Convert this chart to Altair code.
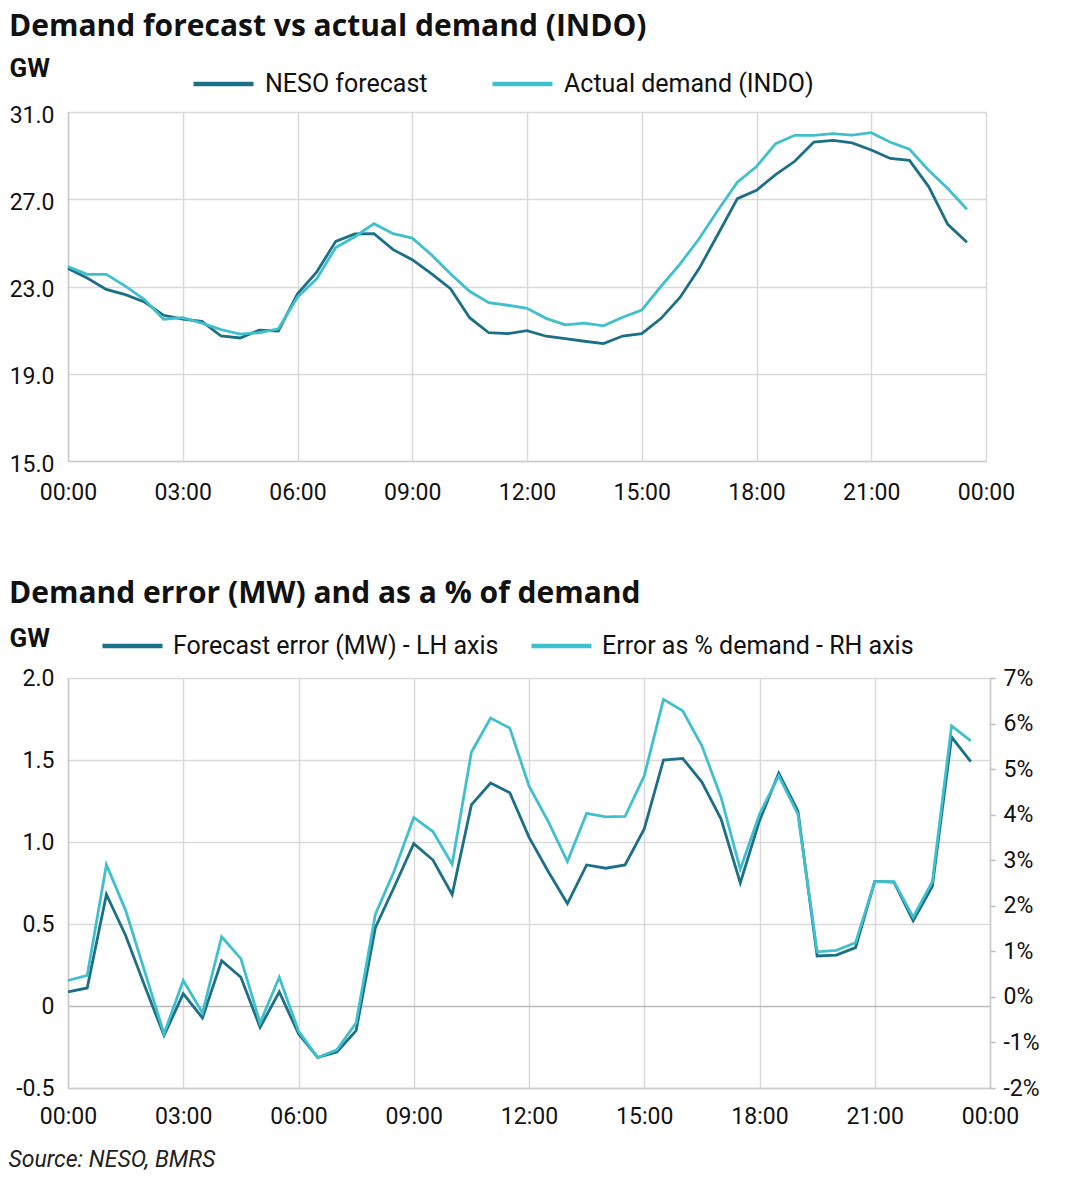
import altair as alt
import pandas as pd

# ---- data -------------------------------------------------------------
times = ["00:00", "00:30", "01:00", "01:30", "02:00", "02:30", "03:00", "03:30",
         "04:00", "04:30", "05:00", "05:30", "06:00", "06:30", "07:00", "07:30",
         "08:00", "08:30", "09:00", "09:30", "10:00", "10:30", "11:00", "11:30",
         "12:00", "12:30", "13:00", "13:30", "14:00", "14:30", "15:00", "15:30",
         "16:00", "16:30", "17:00", "17:30", "18:00", "18:30", "19:00", "19:30",
         "20:00", "20:30", "21:00", "21:30", "22:00", "22:30", "23:00", "23:30"]

neso_forecast = [23.82, 23.39, 22.87, 22.63, 22.29, 21.68, 21.50, 21.40,
                 20.73, 20.64, 21.00, 20.96, 22.67, 23.66, 25.07, 25.41,
                 25.42, 24.69, 24.23, 23.59, 22.90, 21.57, 20.88, 20.84,
                 20.98, 20.72, 20.61, 20.49, 20.38, 20.73, 20.84, 21.53,
                 22.50, 23.82, 25.42, 27.03, 27.41, 28.13, 28.74, 29.62,
                 29.70, 29.58, 29.26, 28.87, 28.78, 27.58, 25.85, 25.03]

actual_demand = [23.92, 23.56, 23.56, 23.02, 22.40, 21.50, 21.57, 21.32,
                 21.02, 20.82, 20.88, 21.06, 22.51, 23.35, 24.79, 25.28,
                 25.88, 25.42, 25.22, 24.46, 23.58, 22.78, 22.26, 22.14,
                 22.00, 21.54, 21.24, 21.32, 21.20, 21.59, 21.92, 23.00,
                 24.03, 25.19, 26.52, 27.78, 28.50, 29.55, 29.93, 29.93,
                 30.01, 29.94, 30.05, 29.61, 29.29, 28.33, 27.49, 26.54]

forecast_error_gw = [0.086, 0.11, 0.68, 0.43, 0.12, -0.18, 0.075, -0.073,
                     0.277, 0.175, -0.13, 0.086, -0.17, -0.314, -0.28, -0.15,
                     0.477, 0.73, 0.99, 0.89, 0.68, 1.226, 1.36, 1.30,
                     1.03, 0.82, 0.625, 0.86, 0.84, 0.86, 1.08, 1.50,
                     1.51, 1.365, 1.14, 0.75, 1.13, 1.42, 1.19, 0.305,
                     0.31, 0.356, 0.76, 0.755, 0.52, 0.73, 1.64, 1.49]

error_pct = [0.36, 0.47, 2.90, 1.90, 0.55, -0.81, 0.36, -0.35,
             1.32, 0.84, -0.57, 0.43, -0.75, -1.33, -1.16, -0.57,
             1.81, 2.78, 3.94, 3.63, 2.91, 5.37, 6.12, 5.90,
             4.63, 3.85, 2.97, 4.03, 3.95, 3.96, 4.85, 6.53,
             6.28, 5.51, 4.38, 2.80, 4.01, 4.85, 4.01, 0.99,
             1.02, 1.19, 2.53, 2.53, 1.75, 2.53, 5.95, 5.62]

x_ticks = [0, 3, 6, 9, 12, 15, 18, 21, 24]
top_y_ticks = [15, 19, 23, 27, 31]
left_y_ticks = [-0.5, 0, 0.5, 1.0, 1.5, 2.0]
right_y_ticks = [-2, -1, 0, 1, 2, 3, 4, 5, 6, 7]

top_series = ["NESO forecast", "Actual demand (INDO)"]
bottom_series = ["Forecast error (MW) - LH axis", "Error as % demand - RH axis"]

DARK = "#1b6f86"
LIGHT = "#40bfcd"
GRID = "#d9d9d9"
TEXT = "#111111"
FONT = "Roboto"
TITLE_FONT = "Open Sans"

hours = [int(t[:2]) + int(t[3:]) / 60 for t in times]

top_df = pd.DataFrame({
    "t": hours + hours,
    "series": [top_series[0]] * len(hours) + [top_series[1]] * len(hours),
    "gw": neso_forecast + actual_demand,
})
bot_df = pd.DataFrame({
    "t": hours + hours,
    "series": [bottom_series[0]] * len(hours) + [bottom_series[1]] * len(hours),
    "gw": forecast_error_gw + [None] * len(hours),
    "pct": [None] * len(hours) + error_pct,
})

x_label_expr = "(datum.value % 24 < 10 ? '0' : '') + (datum.value % 24) + ':00'"


def x_axis(pad):
    return alt.Axis(values=x_ticks, labelExpr=x_label_expr, grid=True, gridColor=GRID,
                    gridWidth=1.5, ticks=False, domainColor="#cccccc", domainWidth=1.5,
                    labelFontSize=23, labelFont=FONT, labelColor=TEXT, labelPadding=pad,
                    labelFlush=False, labelOverlap=False, title=None)


def legend(lx, ly, offset, colpad):
    return alt.Legend(title=None, orient="none", legendX=lx, legendY=ly,
                      direction="horizontal", symbolType="stroke",
                      symbolSize=3600, symbolStrokeWidth=4.5,
                      clipHeight=28, labelFontSize=25, labelFont=FONT,
                      labelColor=TEXT, labelOffset=offset, columnPadding=colpad,
                      labelLimit=500, padding=0)


x_scale = alt.Scale(domain=[0, 24], nice=False, zero=False)

# ---- top chart --------------------------------------------------------
top = alt.Chart(top_df).mark_line(strokeWidth=2.8).encode(
    x=alt.X("t:Q", scale=x_scale, axis=x_axis(20)),
    y=alt.Y("gw:Q", scale=alt.Scale(domain=[15, 31], nice=False, zero=False),
            axis=alt.Axis(values=top_y_ticks, format=".1f", grid=True, gridColor=GRID,
                          gridWidth=1.5, ticks=False, domainColor="#cccccc", domainWidth=1.5,
                          labelFontSize=23, labelFont=FONT, labelColor=TEXT, labelPadding=14,
                          labelOffset=3, minExtent=59, maxExtent=59,
                          title="GW", titleAngle=0, titleAlign="left",
                          titleBaseline="alphabetic", titleX=-59, titleY=-36,
                          titleFontSize=26, titleFont=FONT, titleFontWeight="bold",
                          titleColor=TEXT)),
    color=alt.Color("series:N", sort=top_series,
                    scale=alt.Scale(domain=top_series, range=[DARK, LIGHT]),
                    legend=legend(123, -42, 9, 62)),
).properties(
    width=918, height=349,
    title=alt.TitleParams("Demand forecast vs actual demand (INDO)", anchor="start",
                          frame="bounds", fontSize=30, font=TITLE_FONT, fontWeight="bold",
                          color=TEXT, offset=13),
)

# ---- bottom chart -----------------------------------------------------
bx = alt.X("t:Q", scale=x_scale, axis=x_axis(17))
color_b = alt.Color("series:N", sort=bottom_series,
                    scale=alt.Scale(domain=bottom_series, range=[DARK, LIGHT]),
                    legend=legend(32, -46, 8, 30))

left_label_expr = ("datum.value == 0 ? '0' : (datum.value < 0 ? '-' + format(-datum.value, '.1f')"
                   " : format(datum.value, '.1f'))")
right_label_expr = "(datum.value < 0 ? '-' : '') + abs(datum.value) + '%'"

err_line = alt.Chart(bot_df).transform_filter(
    alt.datum.series == bottom_series[0]
).mark_line(strokeWidth=2.8).encode(
    x=bx,
    y=alt.Y("gw:Q", scale=alt.Scale(domain=[-0.5, 2.0], nice=False, zero=False),
            axis=alt.Axis(values=left_y_ticks, labelExpr=left_label_expr, grid=True,
                          gridColor={"condition": {"test": "datum.value === 0", "value": "#b8b8b8"},
                                     "value": GRID},
                          gridWidth=1.5, ticks=False, domainColor="#cccccc", domainWidth=1.5,
                          labelFontSize=23, labelFont=FONT, labelColor=TEXT, labelPadding=14,
                          minExtent=59, maxExtent=59,
                          title="GW", titleAngle=0, titleAlign="left",
                          titleBaseline="alphabetic", titleX=-59, titleY=-32,
                          titleFontSize=26, titleFont=FONT, titleFontWeight="bold",
                          titleColor=TEXT)),
    color=color_b,
)

pct_line = alt.Chart(bot_df).transform_filter(
    alt.datum.series == bottom_series[1]
).mark_line(strokeWidth=2.8).encode(
    x=bx,
    y=alt.Y("pct:Q", scale=alt.Scale(domain=[-2, 7], nice=False, zero=False),
            axis=alt.Axis(orient="right", values=right_y_ticks, labelExpr=right_label_expr,
                          grid=False, ticks=True, tickSize=5, tickColor="#bbbbbb",
                          tickWidth=1.5, domainColor="#cccccc", domainWidth=1.5,
                          labelFontSize=23, labelFont=FONT, labelColor=TEXT, labelPadding=8,
                          title=None)),
    color=color_b,
)

bottom = alt.layer(err_line, pct_line).resolve_scale(y="independent").properties(
    width=922, height=410,
    title=alt.TitleParams("Demand error (MW) and as a % of demand", anchor="start",
                          frame="bounds", fontSize=30, font=TITLE_FONT, fontWeight="bold",
                          color=TEXT, offset=16),
)

chart = alt.vconcat(top, bottom, spacing=73).resolve_scale(color="independent").properties(
    padding={"left": 0, "top": 3, "right": 5, "bottom": 5},
    title=alt.TitleParams("Source: NESO, BMRS", orient="bottom", anchor="start",
                          frame="bounds", fontSize=23, font=FONT, fontStyle="italic",
                          fontWeight="normal", color="#222222", offset=20),
).configure_view(stroke="transparent").configure(background="white")

chart.save("out.html", embed_options={"renderer": "svg", "actions": False})
